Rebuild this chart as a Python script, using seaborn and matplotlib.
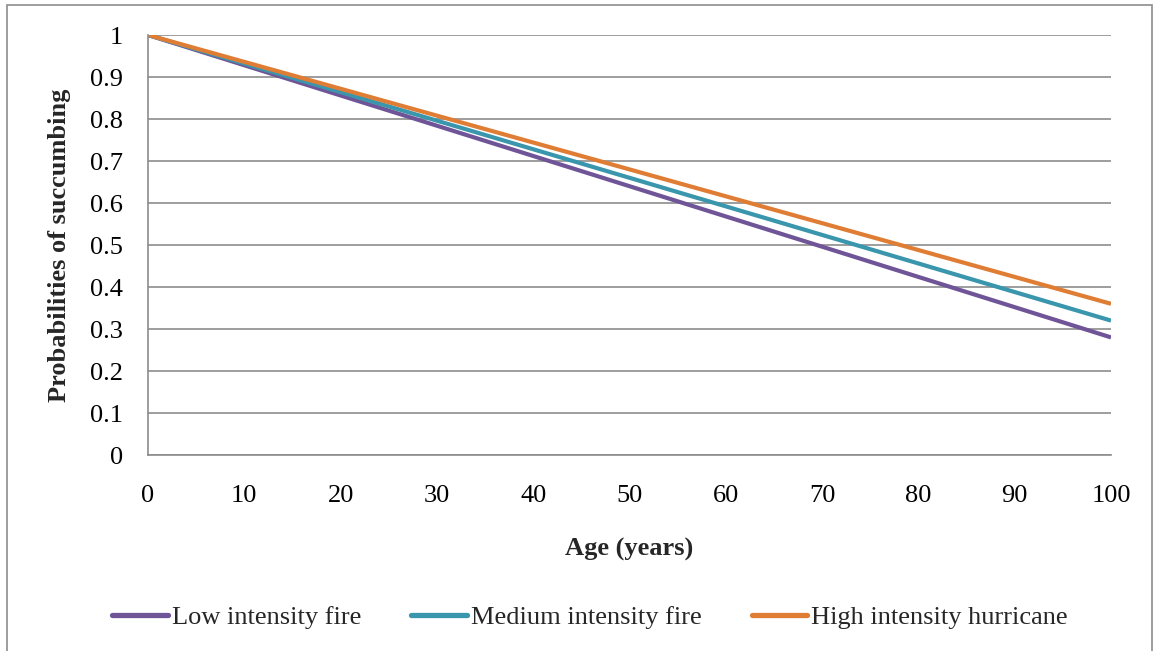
import matplotlib
matplotlib.use("Agg")
import matplotlib.pyplot as plt
import seaborn as sns
import pandas as pd
from matplotlib.patches import Rectangle
from matplotlib.lines import Line2D

age = [0, 10, 20, 30, 40, 50, 60, 70, 80, 90, 100]
low_fire = [1.0, 0.928, 0.856, 0.784, 0.712, 0.640, 0.568, 0.496, 0.424, 0.352, 0.280]
medium_fire = [1.0, 0.932, 0.864, 0.796, 0.728, 0.660, 0.592, 0.524, 0.456, 0.388, 0.320]
high_hurricane = [1.0, 0.936, 0.872, 0.808, 0.744, 0.680, 0.616, 0.552, 0.488, 0.424, 0.360]
series_names = ["Low intensity fire", "Medium intensity fire", "High intensity hurricane"]
colors = ["#6F5597", "#3A96AD", "#E07D35"]
y_ticks = [0, 0.1, 0.2, 0.3, 0.4, 0.5, 0.6, 0.7, 0.8, 0.9, 1]
y_tick_labels = ["0", "0.1", "0.2", "0.3", "0.4", "0.5", "0.6", "0.7", "0.8", "0.9", "1"]

df = pd.DataFrame({
    "Age": age * 3,
    "P": low_fire + medium_fire + high_hurricane,
    "Series": [series_names[0]] * len(age) + [series_names[1]] * len(age) + [series_names[2]] * len(age),
})

sns.set_style("white")
plt.rcParams['font.family'] = ['Liberation Serif', 'DejaVu Serif']

W, H = 1158, 651
FS = 19
fig = plt.figure(figsize=(W / 100, H / 100), dpi=100)
ax = fig.add_axes([148 / W, 1 - 455 / H, (1111 - 148) / W, (455 - 35) / H])

sns.lineplot(data=df, x="Age", y="P", hue="Series", palette=colors, linewidth=3.0,
             ax=ax, legend=False, solid_capstyle="butt")

ax.set_xlim(0, 100)
ax.set_ylim(0, 1)
ax.set_xticks(age)
ax.set_xticklabels([str(a) for a in age])
ax.set_yticks(y_ticks)
ax.set_yticklabels(y_tick_labels)
ax.grid(axis="y", color="#8C8C8C", linewidth=1.2)
ax.set_axisbelow(True)
for s in ["top", "right"]:
    ax.spines[s].set_visible(False)
for s in ["left", "bottom"]:
    ax.spines[s].set_color("#8C8C8C")
    ax.spines[s].set_linewidth(1.2)
ax.tick_params(axis="both", which="major", length=6, width=1.2, color="#8C8C8C",
               labelsize=FS, labelcolor="black", direction="out")
ax.tick_params(axis="y", pad=12)
ax.tick_params(axis="x", pad=15.5)
ax.set_xlabel("Age (years)", fontsize=FS, fontweight="bold", labelpad=22)
ax.set_ylabel("Probabilities of succumbing", fontsize=FS, fontweight="bold", labelpad=14)

handles = [Line2D([0], [0], color=c, linewidth=3.8, solid_capstyle="round") for c in colors]
fig.legend(handles, series_names, loc="center", bbox_to_anchor=(590 / W, 1 - 617 / H),
           ncol=3, frameon=False, fontsize=FS, handlelength=2.1, handletextpad=0.15,
           columnspacing=1.9)

fig.patches.append(Rectangle((7 / W, -0.05), (1152 - 7) / W, 1 - 5 / H + 0.05,
                             transform=fig.transFigure, fill=False,
                             edgecolor="#8C8C8C", linewidth=1.2))

fig.savefig("out.png", dpi=100)
